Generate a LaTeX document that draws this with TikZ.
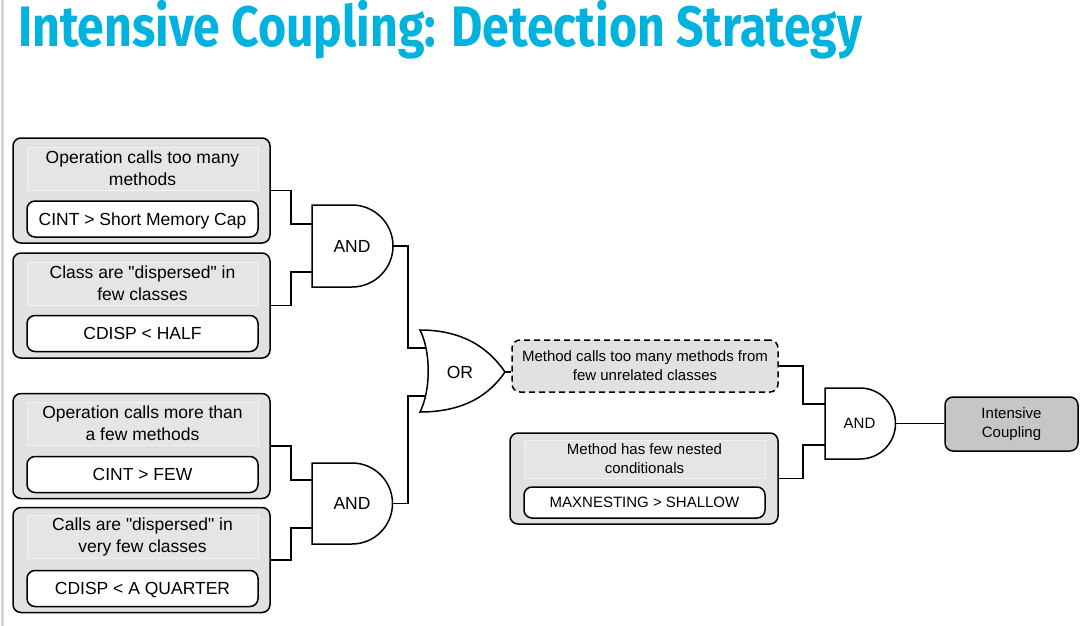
\documentclass[tikz,border=0pt]{standalone}
\usepackage{fontspec}
\usepackage{graphicx}
\setmainfont{Liberation Sans}
\newfontfamily\titlefont{Fira Sans}
\definecolor{titlecol}{RGB}{0,178,222}
\definecolor{grpfill}{RGB}{225,225,225}
\definecolor{bandfill}{RGB}{229,229,229}
\definecolor{bandline}{RGB}{242,242,242}
\definecolor{icfill}{RGB}{198,198,198}
\definecolor{leftline}{RGB}{215,215,215}
\begin{document}
\begin{tikzpicture}[x=1pt,y=-1pt,
  group/.style={draw, line width=1.5pt, rounded corners=8pt, fill=grpfill, minimum width=257pt, minimum height=105pt, inner sep=0pt},
  band/.style={draw=bandline, line width=1pt, fill=bandfill, minimum width=231pt, minimum height=43pt, inner sep=0pt, align=center, font=\fontsize{17.5}{22}\selectfont},
  cond/.style={draw, fill=white, line width=1.5pt, rounded corners=8pt, minimum width=231pt, minimum height=36pt, inner sep=0pt, text height=12.6pt, text depth=0.6pt, font=\fontsize{17.5}{21}\selectfont},
  wire/.style={line width=1.5pt},
  gate/.style={draw, fill=white, line width=1.5pt},
  gatetext/.style={inner sep=0pt, font=\fontsize{17.5}{21}\selectfont},
  smalltext/.style={font=\fontsize{15}{19}\selectfont}
]
\useasboundingbox (0,0) rectangle (1087,626);
\fill[white] (0,0) rectangle (1087,626);
\fill[leftline] (1,0) rectangle (3.5,626);

% title
\node[anchor=base west, inner sep=0pt, text=titlecol] (title) at (18,46.5)
  {\resizebox{844pt}{\height}{\titlefont\bfseries\fontsize{57}{60}\selectfont Intensive Coupling: Detection Strategy}};

% left groups
\node[group] (g1) at (141.5,190.5) {};
\node[band] (b1) at (142.5,168.5) {Operation calls too many\\methods};
\node[cond] (c1) at (142.5,219) {CINT > Short Memory Cap};

\node[group] (g2) at (141.5,305.5) {};
\node[band] (b2) at (142.5,283.5) {Class are \textquotedbl{}dispersed\textquotedbl{} in\\few classes};
\node[cond] (c2) at (142.5,333.5) {CDISP < HALF};

\node[group] (g3) at (141.5,446) {};
\node[band] (b3) at (142.5,423.5) {Operation calls more than\\a few methods};
\node[cond] (c3) at (142.5,474.5) {CINT > FEW};

\node[group] (g4) at (141.5,560) {};
\node[band] (b4) at (142.5,536.5) {Calls are \textquotedbl{}dispersed\textquotedbl{} in\\very few classes};
\node[cond] (c4) at (142.5,588.5) {CDISP < A QUARTER};

% right group
\node[group, minimum width=268pt, minimum height=91pt] (g5) at (644,478.5) {};
\node[band, minimum width=241pt, minimum height=38pt, smalltext] (b5) at (644.5,459) {Method has few nested\\conditionals};
\node[cond, minimum width=241pt, minimum height=31pt, smalltext, text height=10.8pt, text depth=0.5pt] (c5) at (644.5,502.5) {MAXNESTING > SHALLOW};

% intermediate and result
\node[draw, dashed, dash pattern=on 6pt off 4pt, line width=1.5pt, rounded corners=8pt, fill=grpfill,
  minimum width=266pt, minimum height=52pt, inner sep=0pt, align=center, smalltext] (mid) at (645,366)
  {Method calls too many methods from\\few unrelated classes};
\node[draw, line width=1.5pt, rounded corners=8pt, fill=icfill, minimum width=133pt, minimum height=54pt,
  inner sep=0pt, align=center, smalltext] (ic) at (1011.5,424) {Intensive\\Coupling};

% gate ports
\coordinate (a1i1) at (312,224);
\coordinate (a1i2) at (312,272);
\coordinate (a1o) at (393,246);
\coordinate (a2i1) at (312,480);
\coordinate (a2i2) at (312,528);
\coordinate (a2o) at (392.5,503.5);
\coordinate (ori1) at (428,348);
\coordinate (ori2) at (428,396);
\coordinate (oro) at (505,372);
\coordinate (a3i1) at (825,404);
\coordinate (a3i2) at (825,445);
\coordinate (a3o) at (895.5,423.5);

% wires
\draw[wire] (g1.east) -- ++(20,0) |- (a1i1);
\draw[wire] (g2.east) -- ++(20,0) |- (a1i2);
\draw[wire] (g3.east) -- ++(20,0) |- (a2i1);
\draw[wire] (g4.east) -- ++(20,0) |- (a2i2);
\draw[wire] (a1o) -- ++(15,0) |- (ori1);
\draw[wire] (a2o) -- ++(15.5,0) |- (ori2);
\draw[wire] (oro) -- (mid.west |- oro);
\draw[wire] (mid.east) -- ++(24,0) |- (a3i1);
\draw[wire] (g5.east) -- ++(24,0) |- (a3i2);
\draw[wire] (a3o) -- (ic.west |- a3o);

% gates
\draw[gate] (312,205) -- (352,205) .. controls (374.6,205) and (393,223.4) .. (393,246)
  .. controls (393,268.6) and (374.6,287) .. (352,287) -- (312,287) -- cycle;
\draw[gate] (312,463) -- (352,463) .. controls (374.4,463) and (392.5,481.1) .. (392.5,503.5)
  .. controls (392.5,525.9) and (374.4,544) .. (352,544) -- (312,544) -- cycle;
\draw[gate] (825,388) -- (860,388) .. controls (879.6,388) and (895.5,403.9) .. (895.5,423.5)
  .. controls (895.5,443.1) and (879.6,459) .. (860,459) -- (825,459) -- cycle;
\draw[gate, line join=miter] (420,330) .. controls (465,330) and (490,350) .. (505,372)
  .. controls (490,394) and (465,412) .. (420,412)
  .. controls (431,390) and (431,352) .. (420,330) -- cycle;

\node[gatetext] (and1) at (352,246) {AND};
\node[gatetext] (and2) at (352,503.5) {AND};
\node[gatetext] (or1) at (460,372) {OR};
\node[gatetext, smalltext] (and3) at (859.5,423.5) {AND};
\end{tikzpicture}
\end{document}
